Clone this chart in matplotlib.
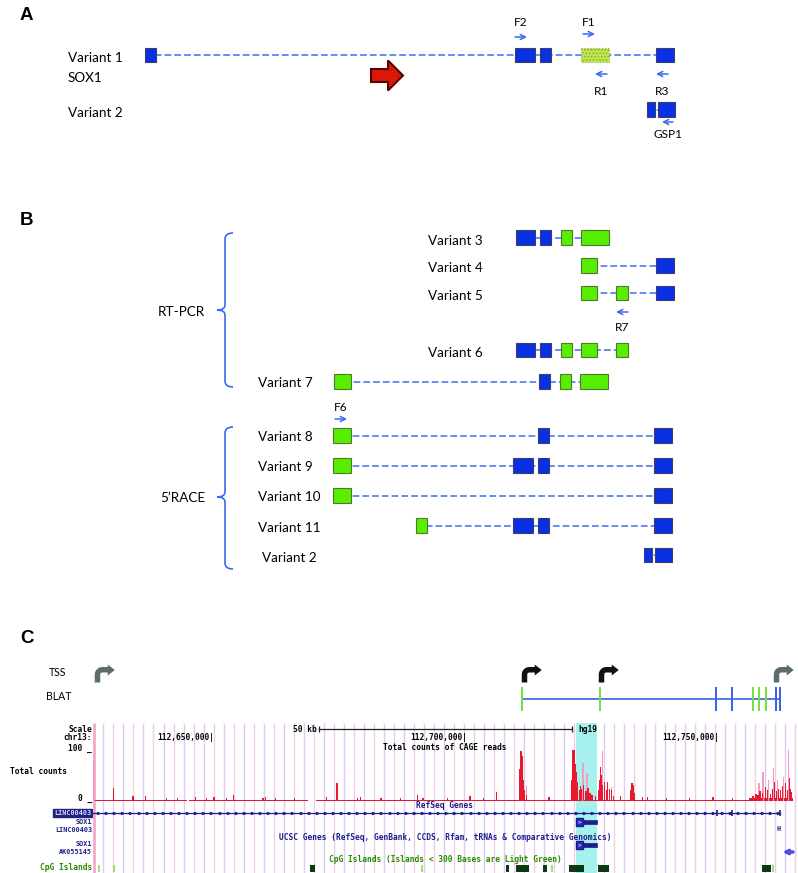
import numpy as np
import matplotlib
matplotlib.use("Agg")
import matplotlib.pyplot as plt
import matplotlib.patches as mpatches
from matplotlib.path import Path
from matplotlib.markers import MarkerStyle

# ---------------- panels A / B : transcript models (schematic x units) ----------------
# (start, end, kind)  kind: b = coding exon (blue), g = novel exon (green), y = hatched exon
variant1 = [(145, 156, 'b'), (515, 535, 'b'), (540, 551, 'b'), (581, 609, 'y'), (656, 674, 'b')]
variant2 = [(647, 655, 'b'), (658, 675, 'b')]
variant3 = [(516, 535, 'b'), (540, 551, 'b'), (561, 572, 'g'), (581, 609, 'g')]
variant4 = [(581, 597, 'g'), (656, 674, 'b')]
variant5 = [(581, 597, 'g'), (616, 628, 'g'), (656, 674, 'b')]
variant6 = [(516, 535, 'b'), (540, 551, 'b'), (561, 572, 'g'), (581, 597, 'g'), (616, 628, 'g')]
variant7 = [(334, 351, 'g'), (539, 550, 'b'), (560, 571, 'g'), (580, 608, 'g')]
variant8 = [(333, 351, 'g'), (538, 549, 'b'), (654, 672, 'b')]
variant9 = [(333, 351, 'g'), (513, 533, 'b'), (538, 549, 'b'), (654, 672, 'b')]
variant10 = [(333, 351, 'g'), (654, 672, 'b')]
variant11 = [(416, 427, 'g'), (513, 533, 'b'), (538, 549, 'b'), (654, 672, 'b')]
variant2_race = [(644, 652, 'b'), (655, 672, 'b')]

# primers: name, start, end (arrow drawn from start to end)
primer_names = ['F2', 'F1', 'R1', 'R3', 'GSP1', 'R7', 'F6']
primer_from = [515, 583, 607, 668, 673, 628, 335]
primer_to = [527, 595, 595, 656, 662, 616, 347]

# ---------------- panel C : genome browser (kb on chr13) ----------------
tss_pos = [112627.1, 112711.4, 112726.6, 112761.2]
tss_col = ['#5e6b6b', '#111111', '#111111', '#5e6b6b']
blat_start, blat_end = 112711.1, 112762.1
blat_ticks = [112711.1, 112726.5, 112749.4, 112752.6, 112756.7, 112757.9, 112759.3, 112761.3, 112762.1]
blat_tick_col = ['g', 'g', 'b', 'b', 'g', 'g', 'g', 'b', 'b']

cage_red_pos = [112630.3, 112634.2, 112636.6, 112646.5, 112648.8, 112650.2, 112654.0, 112659.9,
                112660.3, 112662.3, 112672.5, 112674.5, 112678.5, 112679.1, 112687.0, 112690.5,
                112691.5, 112700.8, 112706.1, 112710.5, 112710.7, 112710.9, 112711.1, 112711.3,
                112711.5, 112711.9, 112720.8, 112721.0, 112721.2, 112721.4, 112721.6, 112721.8,
                112722.0, 112722.4, 112722.6, 112722.9, 112723.3, 112723.7, 112724.1, 112724.5,
                112724.9, 112725.5, 112726.1, 112726.3, 112726.5, 112726.7, 112726.9, 112727.3,
                112727.7, 112727.9, 112728.3, 112728.7, 112729.1, 112730.5, 112732.6, 112732.8,
                112733.0, 112733.2, 112734.8, 112735.8, 112748.8, 112752.6, 112756.7, 112757.3,
                112757.7, 112758.1, 112758.5, 112759.1, 112759.5, 112760.1, 112760.5, 112760.9,
                112761.3, 112761.7, 112762.1, 112762.5, 112763.1, 112763.5, 112763.9, 112764.2,
                112764.4, 112640.8, 112643.0, 112652.6, 112666.1, 112683.2, 112696.4, 112703.5,
                112716.4, 112739.7, 112744.2]
cage_red_val = [24, 9, 9, 7, 6, 7, 11, 6,
                7, 6, 7, 34, 6, 7, 6, 11,
                6, 10, 17, 60, 94, 94, 85, 40,
                20, 12, 40, 96, 96, 96, 70, 55,
                35, 20, 28, 22, 30, 18, 25, 15,
                12, 10, 20, 40, 64, 50, 30, 35,
                20, 36, 22, 20, 10, 10, 20, 34,
                30, 15, 8, 8, 8, 6, 10, 14,
                12, 18, 15, 26, 20, 14, 22, 36,
                18, 22, 20, 28, 34, 20, 43, 22,
                17, 6, 5, 6, 5, 6, 5, 6,
                7, 5, 5]
cage_pink_pos = [112626.4, 112626.6, 112711.9, 112723.1, 112723.9, 112726.9, 112728.7, 112733.0,
                 112757.9, 112758.7, 112759.7, 112760.7, 112761.5, 112762.7, 112763.7]
cage_pink_val = [77, 77, 30, 72, 53, 94, 26, 26,
                 34, 55, 40, 62, 40, 45, 96]
cage_base = [(112626.3, 112644.9, 2.5), (112645.3, 112668.8, 2.5), (112670.4, 112756.0, 2.5),
             (112756.0, 112764.6, 6)]

linc_ticks = [112749.6, 112752.6, 112762.1]
sox1_thick = (112721.8, 112723.1)
sox1_thin = (112723.1, 112725.9)
cpg_dark = [(112669.2, 112670.2), (112707.9, 112708.5), (112709.9, 112712.5), (112715.2, 112716.0),
            (112720.4, 112723.3), (112726.1, 112728.3), (112758.5, 112760.3)]
cpg_light = [112627.5, 112630.45, 112691.3, 112717.0, 112760.7]
highlight = (112721.8, 112725.9)
scale_bar = (112671.0, 112721.0)
pos_labels = ['112,650,000|', '112,700,000|', '112,750,000|']
pos_label_at = [112650.2, 112700.2, 112750.0]
G0, G1 = 112626.3, 112765.4

# ---------------- styles ----------------
W, H = 798, 873
SANS = ['Lato', 'DejaVu Sans']
MONO = ['DejaVu Sans Mono']
BLUE = '#0a30e4'
GREEN = '#58ee00'
INTRON = '#3f6ef2'
NAVY = '#1c1c8c'
CPG_TXT = '#2a8a00'

fig = plt.figure(figsize=(W / 100, H / 100), dpi=100)
ax = fig.add_axes([0, 0, 1, 1])
ax.set_xlim(0, W)
ax.set_ylim(H, 0)
ax.axis('off')


def px_axes(x0, y0, x1, y1):
    return fig.add_axes([x0 / W, 1 - y1 / H, (x1 - x0) / W, (y1 - y0) / H])


def draw_variant(exons, yc, h=14.5):
    x0 = min(e[0] for e in exons)
    x1 = max(e[1] for e in exons)
    ax.plot([x0, x1], [yc, yc], color=INTRON, lw=1.1, dashes=(4.4, 2.0), zorder=1)
    for s, e, k in exons:
        if k == 'b':
            ax.add_patch(mpatches.Rectangle((s, yc - h / 2), e - s, h, fc=BLUE, ec='#3a3f70', lw=0.8, zorder=2))
        elif k == 'g':
            ax.add_patch(mpatches.Rectangle((s, yc - h / 2), e - s, h, fc=GREEN, ec='#4c7a30', lw=0.8, zorder=2))
        else:
            ax.add_patch(mpatches.Rectangle((s, yc - h / 2), e - s, h, fc='#c4ec50', ec='#8fb040',
                                            lw=0.8, ls=':', hatch='.....', zorder=2))


def bracket(x, top, bot, mid):
    verts = [(x + 8, top), (x, top), (x, top + 6), (x, mid - 5), (x, mid), (x - 8, mid),
             (x, mid), (x, mid + 5), (x, bot - 6), (x, bot), (x + 8, bot)]
    codes = [Path.MOVETO, Path.CURVE3, Path.CURVE3, Path.LINETO, Path.CURVE3, Path.CURVE3,
             Path.CURVE3, Path.CURVE3, Path.LINETO, Path.CURVE3, Path.CURVE3]
    ax.add_patch(mpatches.PathPatch(Path(verts, codes), fc='none', ec='#3a6af0', lw=1.2))


def label(x, y, s, size=9.7, **kw):
    ax.text(x, y, s, fontsize=size, family=SANS, va='baseline', **kw)


# panel letters
for lx, ly, s in [(20, 20, 'A'), (20, 225, 'B'), (20, 643, 'C')]:
    ax.text(lx, ly, s, fontsize=13.5, fontweight='bold', family='Liberation Sans', va='baseline')

# panel A
label(68, 62, 'Variant 1')
label(68, 82, 'SOX1')
label(68, 117, 'Variant 2')
draw_variant(variant1, 55)
draw_variant(variant2, 109.5)
ax.add_patch(mpatches.FancyArrow(371, 75.5, 32, 0, width=13, head_width=30, head_length=15,
                                 length_includes_head=True, fc='#d81808', ec='#5a0000', lw=1.5))

# panel B
rows_b = [(variant3, 'Variant 3', 428, 237.5, 245), (variant4, 'Variant 4', 428, 265.5, 272),
          (variant5, 'Variant 5', 428, 293, 300), (variant6, 'Variant 6', 428, 350, 357),
          (variant7, 'Variant 7', 258, 381.5, 387), (variant8, 'Variant 8', 258, 435.5, 441),
          (variant9, 'Variant 9', 258, 465.5, 471), (variant10, 'Variant 10', 258, 495.5, 501),
          (variant11, 'Variant 11', 258, 525.5, 532), (variant2_race, 'Variant 2', 262, 555, 562)]
for exons, name, lx, yc, yb in rows_b:
    label(lx, yb, name)
    draw_variant(exons, yc)

bracket(225, 233, 387, 310)
bracket(225, 427, 569, 497)
label(205, 316, 'RT-PCR', ha='right')
label(205, 502, '5\u2019RACE', ha='right')

# primers
primer_y = [37, 34, 74, 74, 122, 312, 419]
primer_txt_y = [26, 26, 95, 95, 138, 331, 411]
for name, a, b, py, ty in zip(primer_names, primer_from, primer_to, primer_y, primer_txt_y):
    ax.annotate('', xy=(b, py), xytext=(a, py),
                arrowprops=dict(arrowstyle='->', color='#3a6af0', lw=1.1, mutation_scale=9,
                                shrinkA=0, shrinkB=0))
    label((a + b) / 2, ty, name, size=8.6, ha='center')

# panel C labels (left column)
label(49, 676.5, 'TSS', size=7.6)
label(46, 700.5, 'BLAT', size=7.6)
mono = dict(family=MONO, fontsize=5.7, fontweight='bold', va='center')
mono_s = dict(family=MONO, fontsize=4.9, fontweight='bold', va='center')
ax.text(92, 729, 'Scale', ha='right', color='black', **mono)
ax.text(92, 738, 'chr13:', ha='right', color='black', **mono)
ax.text(92, 748, '100 _', ha='right', color='black', **mono)
ax.text(10, 771, 'Total counts', ha='left', color='black', **mono)
ax.text(92, 798, '0 _', ha='right', color='black', **mono)
ax.text(91, 813, 'LINC00403', ha='right', color='#d8d8ff',
        bbox=dict(boxstyle='square,pad=0.15', fc='#1e2280', ec='#1e2280'), **mono_s)
ax.text(92, 821.5, 'SOX1', ha='right', color=NAVY, **mono_s)
ax.text(92, 829.5, 'LINC00403', ha='right', color=NAVY, **mono_s)
ax.text(92, 844, 'SOX1', ha='right', color=NAVY, **mono_s)
ax.text(92, 852.5, 'AK055145', ha='right', color=NAVY, **mono_s)
ax.text(92, 867, 'CpG Islands', ha='right', color=CPG_TXT, **mono)

# genome axes (y in pixel rows)
axg = px_axes(93, 655, 797, 873)
axg.set_xlim(G0, G1)
axg.set_ylim(873, 655)
axg.axis('off')

grid = np.arange(112628.35, G1, 1.98)
axg.vlines(grid[::2], 723, 873, colors='#dccbf4', lw=1, zorder=0)
axg.vlines(grid[1::2], 723, 873, colors='#efcde8', lw=1, zorder=0)
axg.vlines(G0 + 0.15, 723, 873, colors='#f4a8cc', lw=2, zorder=0)
axg.axvspan(highlight[0], highlight[1], ymin=0, ymax=(873 - 723) / (873 - 655), color='#a6f0ee', zorder=0.5, lw=0)

# TSS bent arrows
pts = [(0, 0), (5.5, 0), (5.5, 8)]
for a in np.linspace(np.pi, np.pi / 2, 6)[1:]:
    pts.append((7.5 + 2 * np.cos(a), 8 + 2 * np.sin(a)))
pts += [(13, 10), (13, 7), (20, 12.5), (13, 18), (13, 15.5), (7.5, 15.5)]
for a in np.linspace(np.pi / 2, np.pi, 10)[1:]:
    pts.append((7.5 + 7.5 * np.cos(a), 8 + 7.5 * np.sin(a)))
pts.append((0, 0))
bent = Path(np.array(pts) - [2.75, 0], closed=True)
for xp, c in zip(tss_pos, tss_col):
    axg.plot([xp], [682], marker=MarkerStyle(bent), markersize=25.9, mfc=c, mew=0,
             ls='none', clip_on=False)

# BLAT
axg.hlines(699, blat_start, blat_end, colors='#3a5fe8', lw=1.2)
axg.vlines(blat_ticks, 687, 711, colors=['#72e03a' if c == 'g' else '#3a5fe8' for c in blat_tick_col], lw=1.4)

# scale / positions
axg.plot(scale_bar, [729, 729], color='#222', lw=0.9)
axg.vlines(scale_bar, 726, 732, colors='#222', lw=0.9)
axg.text(scale_bar[0] - 0.4, 729, '50 kb', ha='right', **mono)
axg.text(scale_bar[1] + 1.3, 729, 'hg19', ha='left', **mono)
for s, p in zip(pos_labels, pos_label_at):
    axg.text(p, 738, s, ha='right', **mono)
mid = (G0 + G1) / 2
axg.text(mid, 747, 'Total counts of CAGE reads', ha='center', **mono)
axg.text(mid, 806, 'RefSeq Genes', ha='center', color=NAVY, **mono)
axg.text(mid, 837, 'UCSC Genes (RefSeq, GenBank, CCDS, Rfam, tRNAs & Comparative Genomics)',
         ha='center', color=NAVY, **mono)
axg.text(mid, 860, 'CpG Islands (Islands < 300 Bases are Light Green)', ha='center', color=CPG_TXT, **mono)

# RefSeq LINC00403
chev = np.arange(G0 + 1, linc_ticks[-1], 1.6)
axg.plot([G0, linc_ticks[-1]], [813, 813], color=NAVY, lw=0.9)
axg.plot(chev, np.full(len(chev), 813), ls='none', marker='>', ms=1.6, mfc=NAVY, mec=NAVY)
axg.vlines(linc_ticks, 810, 816, colors=NAVY, lw=1.2)

# SOX1 in RefSeq and UCSC tracks
for yy in (822, 845):
    axg.add_patch(mpatches.Rectangle((sox1_thick[0], yy - 4), sox1_thick[1] - sox1_thick[0], 8,
                                     fc='#2a2ab8', ec=NAVY, lw=1.0))
    axg.text(sox1_thick[0] + 0.3, yy, '>', color='#d8d8ff', fontsize=4.5, family=MONO, va='center', fontweight='bold')
    axg.add_patch(mpatches.Rectangle((sox1_thin[0], yy - 2), sox1_thin[1] - sox1_thin[0], 4,
                                     fc=NAVY, ec=NAVY, lw=0.5))
axg.text(112761.7, 829, 'H', ha='center', color=NAVY, **mono_s)
axg.annotate('', xy=(112762.5, 852), xytext=(112764.6, 852),
             arrowprops=dict(arrowstyle='-|>', color='#5050e0', lw=2.5, mutation_scale=6,
                             shrinkA=0, shrinkB=0))

# CpG islands
for s, e in cpg_dark:
    axg.add_patch(mpatches.Rectangle((s, 865), e - s, 6.5, fc='#0c3a10', ec='none'))
axg.vlines(cpg_light, 865, 871.5, colors='#88e050', lw=1.2)

# CAGE signal axes
axc = px_axes(93, 748, 797, 801)
axc.set_xlim(G0, G1)
axc.set_ylim(0, 100)
axc.axis('off')
for s, e, lv in cage_base:
    axc.fill_between([s, e], 0, lv, color='#e8182e', lw=0)
axc.bar(cage_pink_pos, cage_pink_val, width=0.25, color='#f59ac4', lw=0)
axc.bar(cage_red_pos, cage_red_val, width=0.22, color='#e8182e', lw=0)

fig.savefig('out.png', dpi=100)
